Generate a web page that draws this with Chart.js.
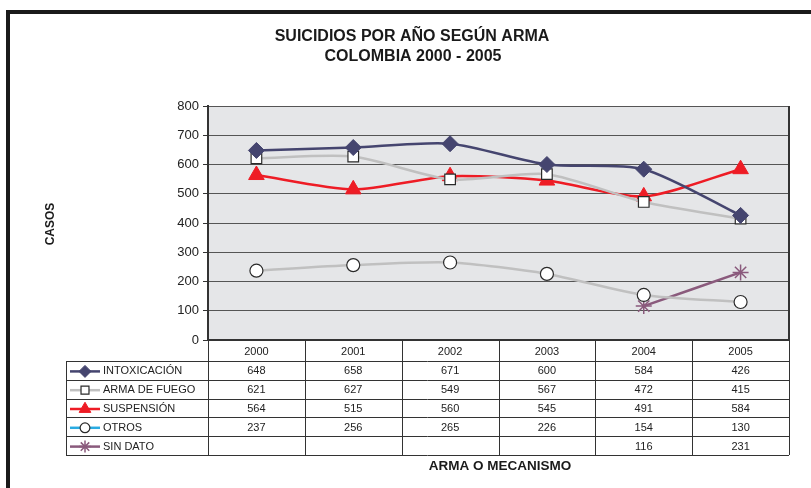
<!DOCTYPE html>
<html>
<head>
<meta charset="utf-8">
<script src="https://cdn.jsdelivr.net/npm/chart.js@4/dist/chart.umd.min.js"></script>
<style>
  html, body { margin: 0; padding: 0; background: #fff; }
  #wrap { width: 811px; height: 488px; position: relative; }
</style>
</head>
<body>
<div id="wrap"><canvas id="chart"></canvas></div>
<script>
// Data
const years = ['2000', '2001', '2002', '2003', '2004', '2005'];
const intoxicacion = [648, 658, 671, 600, 584, 426];
const armaDeFuego = [621, 627, 549, 567, 472, 415];
const suspension = [564, 515, 560, 545, 491, 584];
const otros = [237, 256, 265, 226, 154, 130];
const sinDato = [null, null, null, null, 116, 231];
const seriesNames = ['INTOXICACIÓN', 'ARMA DE FUEGO', 'SUSPENSIÓN', 'OTROS', 'SIN DATO'];

const FONT = 'Arial, "Liberation Sans", sans-serif';

// Frame, titles, axis titles and the data table under the plot
const tablePlugin = {
    id: 'tablePlugin',
    beforeDraw(chart) {
        const ctx = chart.ctx;
        const a = chart.chartArea;
        ctx.save();
        ctx.fillStyle = '#1a1a1a';
        ctx.fillRect(6, 10, 811, 4);
        ctx.fillRect(6, 10, 4, 488);
        ctx.fillStyle = '#e5e6e8';
        ctx.fillRect(a.left, a.top, a.right - a.left, a.bottom - a.top);
        ctx.restore();
    },
    afterDatasetsDraw(chart) {
        const a = chart.chartArea;
        const c = chart.ctx;
        c.save();
        c.strokeStyle = '#333';
        c.lineWidth = 2;
        c.beginPath();
        c.moveTo(a.left, a.bottom);
        c.lineTo(a.right, a.bottom);
        c.moveTo(a.right, a.top);
        c.lineTo(a.right, a.bottom);
        c.stroke();
        c.restore();
    },
    afterDraw(chart) {
        const ctx = chart.ctx;
        const area = chart.chartArea;
        const xs = chart.scales.x;
        const colW = (area.right - area.left) / years.length;
        const headerH = 21;
        const rowH = 18.8;
        const top = area.bottom;
        const rowsTop = top + headerH;
        const bottom = rowsTop + rowH * seriesNames.length;
        const legendLeft = 66;

        ctx.save();
        ctx.fillStyle = '#1a1a1a';
        ctx.textAlign = 'center';
        ctx.textBaseline = 'middle';
        ctx.font = 'bold 16px ' + FONT;
        ctx.fillText('SUICIDIOS POR AÑO SEGÚN ARMA', 412, 37);
        ctx.fillText('COLOMBIA 2000 - 2005', 413, 57);

        ctx.font = 'bold 13.5px ' + FONT;
        ctx.fillText('ARMA O MECANISMO', 500, 466);
        ctx.font = 'bold 12px ' + FONT;
        ctx.save();
        ctx.translate(51, 224);
        ctx.rotate(-Math.PI / 2);
        ctx.fillText('CASOS', 0, 0);
        ctx.restore();

        // grid of the table
        ctx.strokeStyle = '#333';
        ctx.lineWidth = 1;
        ctx.beginPath();
        for (let i = 0; i <= years.length; i++) {
            const x = Math.round(area.left + i * colW) + 0.5;
            ctx.moveTo(x, top);
            ctx.lineTo(x, bottom);
        }
        ctx.moveTo(legendLeft + 0.5, rowsTop);
        ctx.lineTo(legendLeft + 0.5, bottom);
        for (let r = 0; r <= seriesNames.length; r++) {
            const y = Math.round(rowsTop + r * rowH) + 0.5;
            ctx.moveTo(legendLeft, y);
            ctx.lineTo(area.right, y);
        }
        ctx.stroke();

        // header labels
        ctx.font = '11px ' + FONT;
        ctx.fillStyle = '#222';
        years.forEach((yr, i) => {
            ctx.fillText(yr, xs.getPixelForValue(i), top + headerH / 2 + 1);
        });

        // rows
        chart.data.datasets.forEach((ds, r) => {
            const cy = rowsTop + r * rowH + rowH / 2 + 1;
            // legend key
            ctx.strokeStyle = ds.keyColor || ds.borderColor;
            ctx.lineWidth = 2.5;
            ctx.beginPath();
            ctx.moveTo(70, cy);
            ctx.lineTo(100, cy);
            ctx.stroke();
            drawMarker(ctx, ds, 85, cy, 0.75);
            ctx.fillStyle = '#222';
            ctx.textAlign = 'left';
            ctx.fillText(seriesNames[r], 103, cy);
            ctx.textAlign = 'center';
            ds.data.forEach((v, i) => {
                if (v !== null) ctx.fillText(String(v), xs.getPixelForValue(i), cy);
            });
        });
        ctx.restore();
    }
};

function drawMarker(ctx, ds, x, y, scale) {
    ctx.fillStyle = ds.pointBackgroundColor;
    ctx.strokeStyle = ds.pointBorderColor;
    ctx.lineWidth = ds.pointBorderWidth;
    ctx.beginPath();
    Chart.helpers.drawPoint(ctx, {
        pointStyle: ds.pointStyle,
        radius: ds.pointRadius * scale,
        rotation: 0,
        borderWidth: ds.pointBorderWidth
    }, x, y);
}

const ctx = document.getElementById('chart').getContext('2d');
const chart = new Chart(ctx, {
    type: 'line',
    data: {
        labels: years,
        datasets: [{
            label: seriesNames[0],
            data: intoxicacion,
            borderColor: '#45456f',
            borderWidth: 2.5,
            pointStyle: 'rectRot',
            pointRadius: 8,
            pointBackgroundColor: '#45456f',
            pointBorderColor: '#45456f',
            pointBorderWidth: 1
        }, {
            label: seriesNames[1],
            data: armaDeFuego,
            borderColor: '#c0c0c0',
            borderWidth: 2.5,
            pointStyle: 'rect',
            pointRadius: 7.5,
            pointBackgroundColor: '#ffffff',
            pointBorderColor: '#2a2a2a',
            pointBorderWidth: 1.2
        }, {
            label: seriesNames[2],
            data: suspension,
            borderColor: '#ee1c25',
            borderWidth: 2.5,
            pointStyle: 'triangle',
            pointRadius: 9,
            pointBackgroundColor: '#ee1c25',
            pointBorderColor: '#ee1c25',
            pointBorderWidth: 1
        }, {
            label: seriesNames[3],
            data: otros,
            borderColor: '#c0c0c0',
            keyColor: '#29abe2',
            borderWidth: 2.5,
            pointStyle: 'circle',
            pointRadius: 6.5,
            pointBackgroundColor: '#ffffff',
            pointBorderColor: '#2a2a2a',
            pointBorderWidth: 1.2
        }, {
            label: seriesNames[4],
            data: sinDato,
            borderColor: '#8a5a7c',
            borderWidth: 2.5,
            pointStyle: 'star',
            pointRadius: 8,
            pointBackgroundColor: '#8a5a7c',
            pointBorderColor: '#8a5a7c',
            pointBorderWidth: 1.5
        }]
    },
    options: {
        responsive: true,
        maintainAspectRatio: false,
        animation: false,
        layout: {
            padding: { left: 0, right: 22, top: 106, bottom: 148 }
        },
        elements: {
            line: { tension: 0.25 }
        },
        plugins: {
            legend: { display: false },
            tooltip: { enabled: false }
        },
        scales: {
            x: {
                type: 'category',
                offset: true,
                display: false
            },
            y: {
                min: 0,
                max: 800,
                afterFit(scale) { scale.width = 208; },
                ticks: {
                    stepSize: 100,
                    padding: 4,
                    color: '#222',
                    font: { family: FONT, size: 13 }
                },
                grid: {
                    color: '#555',
                    lineWidth: 1,
                    tickLength: 5,
                    tickColor: '#333'
                },
                border: { display: true, color: '#333', width: 2 }
            }
        }
    },
    plugins: [tablePlugin]
});
</script>
</body>
</html>
